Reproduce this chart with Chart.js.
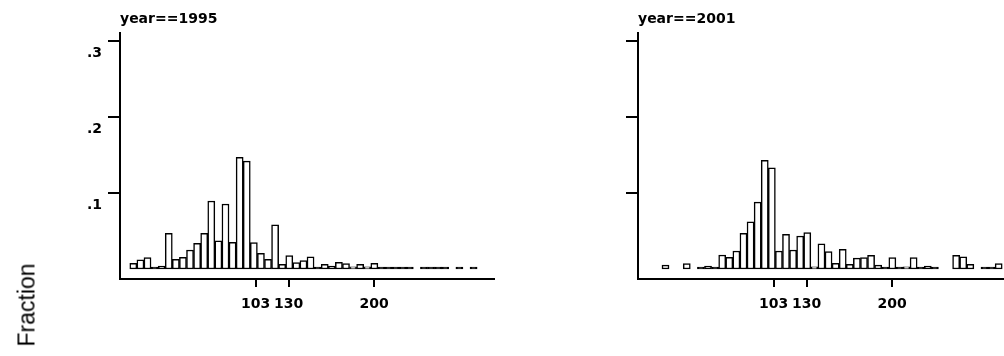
<!DOCTYPE html>
<html>
<head>
<meta charset="utf-8">
<script src="https://cdn.jsdelivr.net/npm/chart.js@4.4.1/dist/chart.umd.min.js"></script>
<style>
  html, body { margin: 0; padding: 0; background: #fff; }
  #page { position: relative; width: 1004px; height: 356px; overflow: hidden; background: #fff; }
  #page canvas { position: absolute; top: 0; }
  .panel-title {
    position: absolute; top: 11px; margin: 0;
    font: bold 14px "DejaVu Sans", sans-serif; line-height: 14px; color: #000; white-space: nowrap;
  }
  #ytitle {
    position: absolute; left: 27px; top: 305px;
    font: 23px "Liberation Sans", Arial, sans-serif; line-height: 23px; color: #000;
    white-space: nowrap; transform: translate(-50%, -50%) rotate(-90deg);
  }
</style>
</head>
<body>
<div id="page">
  <canvas id="chart1995" width="520" height="356" style="left:0px"></canvas>
  <canvas id="chart2001" width="520" height="356" style="left:518px"></canvas>
  <div class="panel-title" style="left:120px">year==1995</div>
  <div class="panel-title" style="left:638px">year==2001</div>
  <div id="ytitle">Fraction</div>
</div>
<script>
// histogram: 50 bins of width 5.8 starting at 0; null = empty bin
const BIN_START = 0;
const BIN_WIDTH = 5.8;
const X_TICKS = [103, 130, 200];
const Y_TICKS = [0.1, 0.2, 0.3];

const frac1995 = [
  0.0075, 0.012, 0.015, 0.002, 0.004, 0.047, 0.0128, 0.0154, 0.025, 0.0338,
  0.047, 0.0895, 0.0372, 0.0855, 0.035, 0.147, 0.142, 0.0346, 0.0207, 0.0128,
  0.058, 0.006, 0.0175, 0.0083, 0.011, 0.016, 0.0007, 0.006, 0.004, 0.0088,
  0.007, 0.003, 0.006, 0.003, 0.0075, 0.0007, 0.0007, 0.0007, 0.0007, 0.0007,
  null, 0.0007, 0.0007, 0.0007, 0.0007, null, 0.0007, null, 0.0007, null
];

const frac2001 = [
  null, null, 0.005, null, null, 0.007, null, 0.0007, 0.004, 0.0007,
  0.0184, 0.0154, 0.0237, 0.047, 0.062, 0.088, 0.143, 0.133, 0.0237, 0.0456,
  0.025, 0.0434, 0.048, 0.003, 0.033, 0.0228, 0.0075, 0.026, 0.006, 0.0142,
  0.015, 0.018, 0.005, 0.002, 0.015, 0.0007, 0.003, 0.015, 0.0007, 0.004,
  0.0007, null, null, 0.018, 0.016, 0.006, null, 0.0007, 0.002, 0.007
];

function binPoints(values) {
  return values.map((v, i) => ({ x: BIN_START + (i + 0.5) * BIN_WIDTH, y: v }));
}

// bins thinner than a pixel print as a solid black stroke in the original
function barFill(ctx) {
  const v = ctx.raw && ctx.raw.y;
  return v != null && v < 0.0025 ? '#000000' : '#ffffff';
}

function makeHistogram(canvasId, values, showYLabels) {
  const ctx = document.getElementById(canvasId).getContext('2d');
  return new Chart(ctx, {
    type: 'bar',
    data: {
      datasets: [{
        data: binPoints(values),
        backgroundColor: barFill,
        borderColor: '#000000',
        borderWidth: 1.5,
        borderSkipped: false,
        minBarLength: 2,
        barPercentage: 1,
        categoryPercentage: 1,
      }],
    },
    options: {
      responsive: false,
      animation: false,
      devicePixelRatio: 1,
      layout: { padding: { top: 33, right: 26, left: 0, bottom: 0 } },
      plugins: { legend: { display: false }, tooltip: { enabled: false } },
      scales: {
        x: {
          type: 'linear',
          min: -8,
          max: 298,
          offset: false,
          afterBuildTicks: (scale) => { scale.ticks = X_TICKS.map((v) => ({ value: v })); },
          afterFit: (scale) => { scale.height = 77; },
          ticks: {
            color: '#000',
            font: { family: 'DejaVu Sans', size: 14, weight: 'bold' },
            padding: 9,
            maxRotation: 0,
            autoSkip: false,
            callback: (v) => String(v),
          },
          grid: {
            offset: false,
            drawOnChartArea: false,
            drawTicks: true,
            tickLength: 8,
            color: '#000',
            lineWidth: 2,
          },
          border: { display: true, color: '#000', width: 2 },
        },
        y: {
          min: -0.01316,
          max: 0.3105,
          afterBuildTicks: (scale) => { scale.ticks = Y_TICKS.map((v) => ({ value: v })); },
          afterFit: (scale) => { scale.width = 120; },
          ticks: {
            color: '#000',
            font: { family: 'DejaVu Sans', size: 14, weight: 'bold' },
            padding: 6,
            labelOffset: 12,
            autoSkip: false,
            callback: (v) => showYLabels ? '.' + Math.round(v * 10) : '',
          },
          grid: {
            drawOnChartArea: false,
            drawTicks: true,
            tickLength: 12,
            color: '#000',
            lineWidth: 2,
          },
          border: { display: true, color: '#000', width: 2 },
        },
      },
    },
  });
}

makeHistogram('chart1995', frac1995, true);
makeHistogram('chart2001', frac2001, false);
</script>
</body>
</html>
